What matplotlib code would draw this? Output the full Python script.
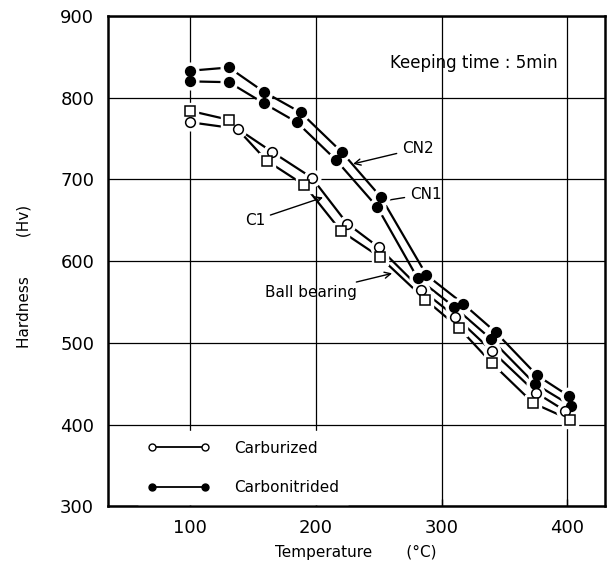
import matplotlib
matplotlib.use("Agg")
import matplotlib.pyplot as plt
from matplotlib.lines import Line2D

# hardness (Hv) vs tempering temperature (deg C), keeping time 5 min
temp_cn2 = [100, 131, 159, 188, 221, 252, 288, 317, 343, 376, 401]
hv_cn2 = [833, 837, 807, 782, 733, 678, 583, 548, 513, 460, 435]
temp_cn1 = [100, 131, 159, 185, 216, 249, 281, 310, 339, 374, 403]
hv_cn1 = [820, 819, 793, 770, 724, 666, 579, 544, 505, 450, 423]
temp_c1 = [100, 138, 165, 197, 225, 250, 284, 311, 340, 375, 398]
hv_c1 = [770, 762, 734, 702, 646, 617, 565, 532, 490, 439, 417]
temp_bb = [100, 131, 161, 191, 220, 251, 287, 314, 340, 373, 402]
hv_bb = [784, 773, 723, 693, 637, 605, 553, 518, 475, 426, 406]

x_ticks = [100, 200, 300, 400]
y_ticks = [300, 400, 500, 600, 700, 800, 900]

fig = plt.figure(figsize=(6.07, 5.72), dpi=100)
ax = fig.add_axes([0.178, 0.115, 0.819, 0.857])


def series(x, y, marker, face):
    ax.plot(x, y, "-", color="black", lw=1.6, zorder=3)
    # white halo gives the small gap between line and marker
    ax.plot(x, y, marker, ls="none", ms=12, mfc="white", mec="white", zorder=4)
    ax.plot(x, y, marker, ls="none", ms=7, mfc=face, mec="black", mew=1.1, zorder=5)


series(temp_cn2, hv_cn2, "o", "black")
series(temp_cn1, hv_cn1, "o", "black")
series(temp_c1, hv_c1, "o", "white")
series(temp_bb, hv_bb, "s", "white")

ax.set_xlim(35, 430)
ax.set_ylim(300, 900)
ax.set_xticks(x_ticks)
ax.set_yticks(y_ticks)
ax.grid(True, color="black", lw=0.9)
ax.set_axisbelow(True)
for s in ax.spines.values():
    s.set_linewidth(1.8)
ax.tick_params(axis="x", direction="in", length=5, width=1, labelsize=13, pad=9)
ax.tick_params(axis="y", direction="in", length=0, labelsize=13, pad=10)

ax.set_xlabel("Temperature       (°C)", fontsize=11)
ax.xaxis.set_label_coords(0.499, -0.08)
ax.set_ylabel("Hardness        (Hv)", fontsize=11)
ax.yaxis.set_label_coords(-0.153, 0.469)

ax.text(259, 842, "Keeping time : 5min", fontsize=12, va="center", ha="left")
arrow = dict(arrowstyle="->", color="black", lw=1.0, shrinkA=2, shrinkB=0)
ax.annotate("CN2", xy=(229.7, 719), xytext=(268.7, 738), fontsize=11,
            va="center", ha="left", arrowprops=arrow)
ax.annotate("CN1", xy=(247, 672), xytext=(275, 682), fontsize=11,
            va="center", ha="left", arrowprops=arrow)
ax.annotate("C1", xy=(205.8, 678), xytext=(159.7, 650), fontsize=11,
            va="center", ha="right", arrowprops=arrow)
ax.annotate("Ball bearing", xy=(260.7, 585), xytext=(233, 561), fontsize=11,
            va="center", ha="right", arrowprops=arrow)

handles = [
    Line2D([], [], color="black", lw=1.3, marker="o", ms=5, mfc="white", mec="black"),
    Line2D([], [], color="black", lw=1.3, marker="o", ms=5, mfc="black", mec="black"),
]
leg = ax.legend(handles, ["Carburized", "Carbonitrided"], loc="lower left",
                bbox_to_anchor=(0.06, 0.004), borderaxespad=0, borderpad=0.6,
                numpoints=2, handlelength=4.1, handletextpad=1.6, labelspacing=1.6,
                fontsize=11, frameon=True, fancybox=False, framealpha=1,
                facecolor="white", edgecolor="white")
leg.set_zorder(6)

fig.savefig("out.png", dpi=100)
